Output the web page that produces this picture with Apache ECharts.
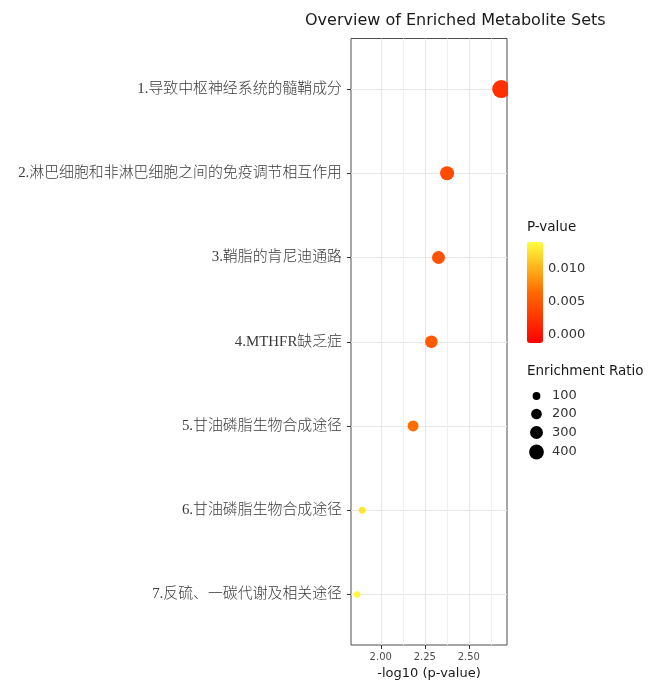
<!DOCTYPE html>
<html>
<head>
<meta charset="utf-8">
<script src="https://cdn.jsdelivr.net/npm/echarts@6/dist/echarts.min.js"></script>
<style>
  html, body { margin: 0; padding: 0; background: #ffffff; }
  #chart { width: 660px; height: 682px; }
</style>
</head>
<body>
<div id="chart"></div>
<script>
// Metabolite set enrichment results (top to bottom)
const pathways = [
  '1.导致中枢神经系统的髓鞘成分',
  '2.淋巴细胞和非淋巴细胞之间的免疫调节相互作用',
  '3.鞘脂的肯尼迪通路',
  '4.MTHFR缺乏症',
  '5.甘油磷脂生物合成途径',
  '6.甘油磷脂生物合成途径',
  '7.反硫、一碳代谢及相关途径'
];
const pValues = [0.00207, 0.00420, 0.00470, 0.00516, 0.00655, 0.01274, 0.01361];
const enrichmentRatio = [660, 400, 345, 320, 245, 100, 86];

// Axis / legend tick values
const xMajorTicks = [2.00, 2.25, 2.50];
const xMinorTicks = [2.125, 2.375, 2.625];
const colorTicks = [0.010, 0.005, 0.000];
const sizeBreaks = [100, 200, 300, 400];

// Layout
const grid = { left: 351, right: 153, top: 38.5, bottom: 37 };
const xRange = [1.831, 2.717];
const pScale = [-0.0013, 0.0140];
const bar = { left: 527, top: 242, width: 16, height: 101 };

const sans = '"DejaVu Sans", sans-serif';
const labelFont = '"Liberation Serif", "Noto Sans CJK SC", serif';

const dotSize = v => 0.7 * Math.sqrt(v);

const points = pathways.map((name, i) => ({
  name: name,
  value: [-Math.log10(pValues[i]), i + 1, pValues[i], enrichmentRatio[i]]
}));

const chart = echarts.init(document.getElementById('chart'), null, { renderer: 'canvas' });

const legendGraphics = [];
legendGraphics.push({
  type: 'text', left: bar.left, top: 228 - 8,
  style: { text: 'P-value', font: '13.5px ' + sans, fill: '#1a1a1a' }
});
colorTicks.forEach(v => {
  const y = bar.top + (pScale[1] - v) / (pScale[1] - pScale[0]) * bar.height;
  legendGraphics.push({
    type: 'text', x: 548, y: y,
    style: { text: v.toFixed(3), font: '13px ' + sans, fill: '#333333', textVerticalAlign: 'middle' }
  });
});
legendGraphics.push({
  type: 'text', left: bar.left, top: 372 - 8,
  style: { text: 'Enrichment Ratio', font: '13.5px ' + sans, fill: '#1a1a1a' }
});
const sizeRows = [396, 414, 432.5, 452];
sizeBreaks.forEach((v, i) => {
  legendGraphics.push({
    type: 'circle', shape: { cx: 536.5, cy: sizeRows[i], r: dotSize(v) / 2 + 0.4 },
    style: { fill: '#000000' }
  });
  legendGraphics.push({
    type: 'text', x: 552, y: sizeRows[i],
    style: { text: String(v), font: '13px ' + sans, fill: '#333333', textVerticalAlign: 'middle' }
  });
});
// keep dots inside the panel on the right edge
legendGraphics.push({
  type: 'rect', z: 100,
  shape: { x: 660 - grid.right + 1, y: grid.top - 2, width: 14, height: 682 - grid.top - grid.bottom + 4 },
  style: { fill: '#ffffff' }
});

const option = {
  backgroundColor: '#ffffff',
  animation: false,
  title: {
    text: 'Overview of Enriched Metabolite Sets',
    left: 305, top: 13, padding: 0,
    textStyle: { fontFamily: sans, fontSize: 16, fontWeight: 'normal', color: '#1a1a1a' }
  },
  grid: {
    left: grid.left, right: grid.right, top: grid.top, bottom: grid.bottom,
    outerBoundsMode: 'none', containLabel: false,
    show: true, borderColor: '#4d4d4d', borderWidth: 1, backgroundColor: 'transparent'
  },
  xAxis: [
    {
      type: 'value', min: xRange[0], max: xRange[1],
      name: '-log10 (p-value)', nameLocation: 'middle', nameGap: 21,
      nameTextStyle: { fontFamily: sans, fontSize: 13, color: '#1a1a1a' },
      axisLine: { show: false },
      axisTick: { show: true, length: 4, customValues: xMajorTicks, lineStyle: { color: '#333333' } },
      axisLabel: {
        customValues: xMajorTicks, margin: 7,
        formatter: v => Number(v).toFixed(2),
        fontFamily: sans, fontSize: 10, color: '#4d4d4d'
      },
      splitLine: { show: true, lineStyle: { color: '#e6e6e6', width: 1 } }
    },
    {
      type: 'value', min: xRange[0], max: xRange[1], position: 'bottom',
      axisLine: { show: false },
      axisTick: { show: false, customValues: xMinorTicks },
      axisLabel: { show: false },
      splitLine: { show: true, lineStyle: { color: '#f0f0f0', width: 1 } }
    }
  ],
  yAxis: {
    type: 'value', min: 0.4, max: 7.6, inverse: true,
    axisLine: { show: false },
    axisTick: { show: true, length: 4, customValues: [1, 2, 3, 4, 5, 6, 7], lineStyle: { color: '#333333' } },
    axisLabel: {
      customValues: [1, 2, 3, 4, 5, 6, 7], margin: 9,
      formatter: v => pathways[Math.round(v) - 1],
      fontFamily: labelFont, fontSize: 14.9, fontWeight: 300, color: '#3a3a3a'
    },
    splitLine: { show: true, lineStyle: { color: '#e6e6e6', width: 1 } }
  },
  visualMap: {
    type: 'continuous', seriesIndex: 0, dimension: 2,
    min: pScale[0], max: pScale[1],
    left: bar.left, top: bar.top, padding: 0,
    itemWidth: bar.width, itemHeight: bar.height,
    calculable: false, hoverLink: false,
    inRange: { color: ['#ff0000', '#ff6a00', '#ffff3c'] }
  },
  graphic: legendGraphics,
  series: [{
    type: 'scatter',
    xAxisIndex: 0, yAxisIndex: 0,
    data: points,
    symbolSize: v => dotSize(v[3]),
    itemStyle: { opacity: 1 },
    z: 5
  }]
};

chart.setOption(option);
</script>
</body>
</html>
